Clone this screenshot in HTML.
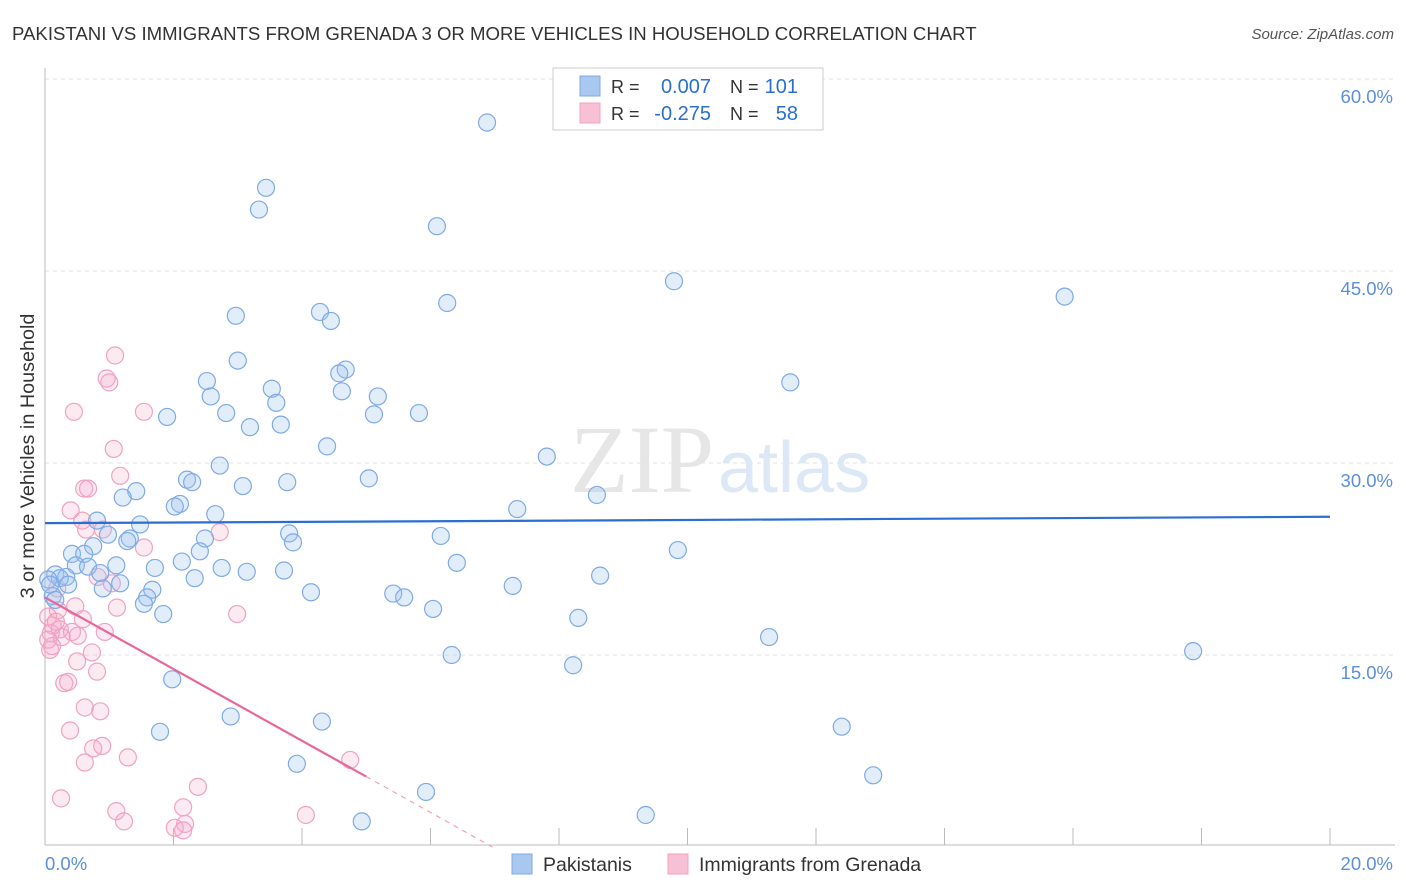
<!DOCTYPE html>
<html><head><meta charset="utf-8"><style>
body{margin:0;background:#fff;font-family:"Liberation Sans",sans-serif;}
#wrap{position:relative;width:1406px;height:892px;overflow:hidden}
</style></head><body>
<div id="wrap">
<svg id="chart" width="1406" height="892"></svg>
</div>
<script>
const blueX=[6.88,3.44,3.33,6.10,9.79,15.87,6.26,2.97,4.28,4.45,3.00,4.68,4.58,2.52,3.53,4.62,5.18,11.60,2.58,3.60,2.82,1.90,5.12,5.82,3.19,3.67,4.39,7.81,2.72,5.04,2.21,2.29,3.08,3.77,1.42,1.21,8.59,2.10,2.02,7.35,2.65,0.81,1.48,3.80,0.98,1.32,6.16,2.49,3.86,0.75,1.28,9.85,0.42,0.61,2.41,2.13,6.41,0.48,1.11,0.67,1.71,2.75,3.14,3.72,0.86,0.16,0.33,0.23,0.05,8.64,2.33,1.17,0.90,0.36,7.28,1.67,4.14,5.42,5.59,1.59,1.54,6.04,1.84,8.30,11.27,17.87,6.33,8.22,1.98,2.89,4.31,12.40,1.79,3.92,12.89,5.93,9.35,4.93,0.12,0.08,0.16];
const blueY=[56.6,51.5,49.8,48.5,44.2,43.0,42.5,41.5,41.8,41.1,38.0,37.3,37.0,36.4,35.8,35.6,35.2,36.3,35.2,34.7,33.9,33.6,33.8,33.9,32.8,33.0,31.3,30.5,29.8,28.8,28.7,28.5,28.2,28.5,27.8,27.3,27.5,26.8,26.6,26.4,26.0,25.5,25.2,24.5,24.4,24.1,24.3,24.1,23.8,23.5,23.9,23.2,22.9,22.9,23.1,22.3,22.2,22.0,22.0,21.9,21.8,21.8,21.5,21.6,21.4,21.3,21.1,21.0,20.9,21.2,21.0,20.6,20.2,20.5,20.4,20.1,19.9,19.8,19.5,19.5,19.0,18.6,18.2,17.9,16.4,15.3,15.0,14.2,13.1,10.2,9.8,9.4,9.0,6.5,5.6,4.3,2.5,2.0,19.6,20.5,19.3];
const pinkX=[1.09,0.96,1.00,0.45,1.54,1.07,1.17,0.61,0.67,0.40,0.58,0.64,0.90,2.72,1.54,0.82,1.04,0.19,0.20,0.47,1.12,2.99,0.05,0.59,0.12,0.23,0.93,0.09,0.42,0.51,0.26,0.05,0.73,0.08,0.50,0.81,0.30,0.36,0.62,0.86,0.39,0.75,0.89,1.29,0.62,4.75,2.38,0.25,1.11,2.15,4.06,1.23,2.18,2.02,2.15,0.17,0.11];
const pinkY=[38.4,36.6,36.3,34.0,34.0,31.1,29.0,28.0,28.0,26.3,25.5,24.8,24.8,24.6,23.4,21.1,20.6,20.2,18.5,18.8,18.7,18.2,18.0,17.8,17.3,17.0,16.8,16.7,16.8,16.5,16.4,16.2,15.2,15.4,14.5,13.7,12.8,12.9,10.9,10.6,9.1,7.7,7.9,7.0,6.6,6.8,4.7,3.8,2.8,3.1,2.5,2.0,1.8,1.5,1.3,17.6,15.7];
const yTicks=[15,30,45,60];
const yTickLabels=["15.0%","30.0%","45.0%","60.0%"];
const xTicks=[2,4,6,8,10,12,14,16,18,20];
const blueTrend=[25.3,25.8];
const pinkTrend=[19.5,-2.8];

const NS="http://www.w3.org/2000/svg";
const svg=document.getElementById('chart');
const X=v=>45+v*64.25, Y=v=>847-v*12.8;
function mk(t,a,p){const e=document.createElementNS(NS,t);for(const k in a)e.setAttribute(k,a[k]);(p||svg).appendChild(e);return e;}
function txt(x,y,s,a){const e=mk('text',Object.assign({x:x,y:y},a));e.textContent=s;return e;}

yTicks.forEach((v,i)=>{
 const g=mk('line',{x1:45,x2:1395,y1:Y(v),y2:Y(v),stroke:'#e2e2e2','stroke-dasharray':'4,4'});
 
 
 const t=txt(1393,Y(v)+24,yTickLabels[i],{'text-anchor':'end','font-size':18.5,fill:'#5b8fdc'});
 
 
});
const ax=mk('line',{x1:45,x2:1395,y1:845,y2:845,stroke:'#bbb'});

const ay=mk('line',{x1:45,x2:45,y1:68,y2:845,stroke:'#bbb'});

xTicks.forEach(v=>{const l=mk('line',{x1:X(v),x2:X(v),y1:828,y2:845,stroke:'#bbb'});
 });

const wm=txt(714,492,'ZIP',{'text-anchor':'end','font-size':96,fill:'#e6e6e6','font-family':'Liberation Serif'});

const wm2=txt(718,492,'atlas',{'font-size':72,fill:'#dce8f6'});


pinkX.forEach((x,i)=>{const c=mk('circle',{cx:X(x),cy:Y(pinkY[i]),r:8.5,fill:'rgba(245,170,200,0.25)',stroke:'#f0a2c2','stroke-width':1.2});
 });
blueX.forEach((x,i)=>{const c=mk('circle',{cx:X(x),cy:Y(blueY[i]),r:8.5,fill:'rgba(160,196,240,0.3)',stroke:'#7eaae6','stroke-width':1.2});
 });

const bt=mk('line',{x1:X(0),x2:X(20),y1:Y(blueTrend[0]),y2:Y(blueTrend[1]),stroke:'#2a6fd0','stroke-width':2.2});

const pEnd=5.0, pZero=-pinkTrend[0]/pinkTrend[1];
const pt=mk('line',{x1:X(0),x2:X(pEnd),y1:Y(pinkTrend[0]),y2:Y(pinkTrend[0]+pinkTrend[1]*pEnd),stroke:'#e8679a','stroke-width':2.2});

const pd=mk('line',{x1:X(pEnd),x2:X(pZero),y1:Y(pinkTrend[0]+pinkTrend[1]*pEnd),y2:Y(0),stroke:'#f0a0c0','stroke-width':1.2,'stroke-dasharray':'5,5'});


const ti=txt(12,40,'PAKISTANI VS IMMIGRANTS FROM GRENADA 3 OR MORE VEHICLES IN HOUSEHOLD CORRELATION CHART',{'font-size':18.6,fill:'#333'});

const so=txt(1394,39,'Source: ZipAtlas.com',{'text-anchor':'end','font-size':15,fill:'#555','font-style':'italic'});

const yt=txt(0,0,'3 or more Vehicles in Household',{'font-size':19.8,fill:'#333','text-anchor':'middle',transform:'translate(34,456) rotate(-90)'});

const x0=txt(45,870,'0.0%',{'font-size':18.5,fill:'#5b8fdc'});

const x1=txt(1393,870,'20.0%',{'font-size':18.5,fill:'#5b8fdc','text-anchor':'end'});


const lg=mk('rect',{x:553,y:68,width:270,height:62,fill:'#fff',stroke:'#ccc'});

[[0,'#a8c8f0','#7eaae6','0.007','101'],[1,'#f8c0d4','#f0a2c2','-0.275','58']].forEach(r=>{
 const y=86+r[0]*27;
 const s=mk('rect',{x:580,y:y-10,width:20,height:20,fill:r[1],stroke:r[2]});
 
 const a=txt(611,y+7,'R = ',{'font-size':18,fill:'#333'});
 const b=txt(711,y+7,r[3],{'font-size':20,fill:'#2a6fd0','text-anchor':'end'});
 const c=txt(730,y+7,'N = ',{'font-size':18,fill:'#333'});
 const d=txt(798,y+7,r[4],{'font-size':20,fill:'#2a6fd0','text-anchor':'end'});
});
[[512,'#a8c8f0','#7eaae6','Pakistanis'],[668,'#f8c0d4','#f0a2c2','Immigrants from Grenada']].forEach(r=>{
 const s=mk('rect',{x:r[0],y:854,width:20,height:20,fill:r[1],stroke:r[2]});
 
 const t=txt(r[0]+31,871,r[3],{'font-size':19.5,fill:'#333'});
 
});
</script>
</body></html>
